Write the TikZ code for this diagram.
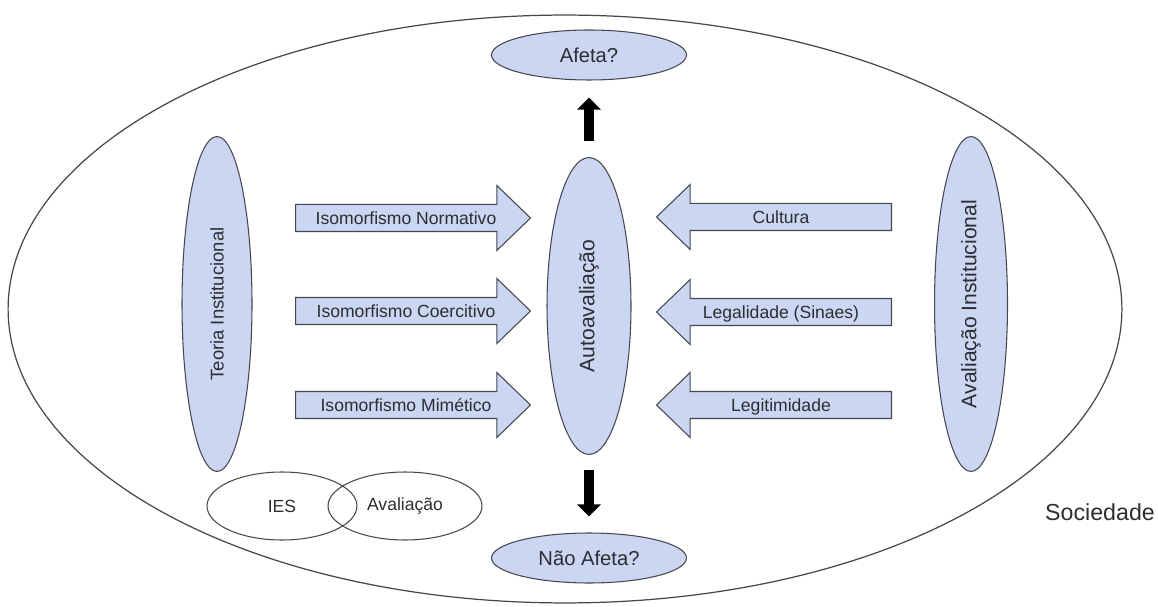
\documentclass[tikz,border=0pt]{standalone}
\usepackage{fontspec}
\setmainfont{Liberation Sans}
\usetikzlibrary{shapes.geometric,shapes.arrows,arrows.meta}
\definecolor{caixa}{RGB}{202,214,242}
\definecolor{borda}{RGB}{70,70,80}
\definecolor{texto}{RGB}{45,45,50}
\begin{document}
\begin{tikzpicture}[x=0.02cm,y=-0.02cm,
  oval/.style={ellipse,draw=borda,line width=0.6pt,fill=caixa,inner sep=0pt,text=texto},
  venn/.style={ellipse,draw=borda,line width=0.6pt,inner sep=0pt,minimum height=1.36cm,text=texto,font=\fontsize{10}{12}\selectfont},
  seta/.style={single arrow,draw=borda,line width=0.6pt,fill=caixa,text=texto,minimum height=4.7cm,
    single arrow head extend=0.38cm,single arrow tip angle=88,inner xsep=2pt,inner ysep=0pt,
    text height=0.385cm,text depth=0.135cm,font=\fontsize{10}{12}\selectfont},
  preta/.style={draw=black,line width=0.2cm,-{Triangle[width=0.46cm,length=0.24cm]}}]
\useasboundingbox (0,0) rectangle (1158,607);
\node[ellipse,draw=borda,line width=0.7pt,minimum width=22.28cm,minimum height=11.76cm] (soc) at (565,309) {};
\node[text=texto,font=\fontsize{13.2}{15}\selectfont] (sociedade) at (1100,512) {Sociedade};
\node[oval,minimum width=3.9cm,minimum height=1cm,font=\fontsize{11.5}{13}\selectfont] (afeta) at (589,55) {Afeta?};
\node[oval,minimum width=3.9cm,minimum height=1cm,font=\fontsize{11.5}{13}\selectfont] (nafeta) at (589,558) {Não Afeta?};
\node[oval,rotate=90,minimum width=5.94cm,minimum height=1.68cm,font=\fontsize{12}{14}\selectfont] (auto) at (589,306) {Autoavaliação};
\node[oval,rotate=90,minimum width=6.7cm,minimum height=1.4cm,font=\fontsize{10.5}{12}\selectfont] (teoria) at (217,304) {Teoria Institucional};
\node[oval,rotate=90,minimum width=6.7cm,minimum height=1.46cm,font=\fontsize{12}{14}\selectfont] (avinst) at (971,304) {Avaliação Institucional};
\node[seta,anchor=tail] (normativo) at (295,218) {Isomorfismo Normativo};
\node[seta,anchor=tail] (coercitivo) at (295,311) {Isomorfismo Coercitivo};
\node[seta,anchor=tail] (mimetico) at (295,405) {Isomorfismo Mimético};
\node[seta,shape border rotate=180,anchor=tail] (cultura) at (892,217) {Cultura};
\node[seta,shape border rotate=180,anchor=tail] (legalidade) at (892,312) {Legalidade (Sinaes)};
\node[seta,shape border rotate=180,anchor=tail] (legitimidade) at (892,405) {Legitimidade};
\node[venn,minimum width=3cm] (ies) at (282,506) {IES};
\node[venn,minimum width=3.08cm] (aval) at (405,506) {Avaliação};
\draw[preta,shorten <=0.32cm,shorten >=0.34cm] (auto.east) -- (afeta.south);
\draw[preta,shorten <=0.3cm,shorten >=0.32cm] (auto.west) -- (nafeta.north);
\end{tikzpicture}
\end{document}
